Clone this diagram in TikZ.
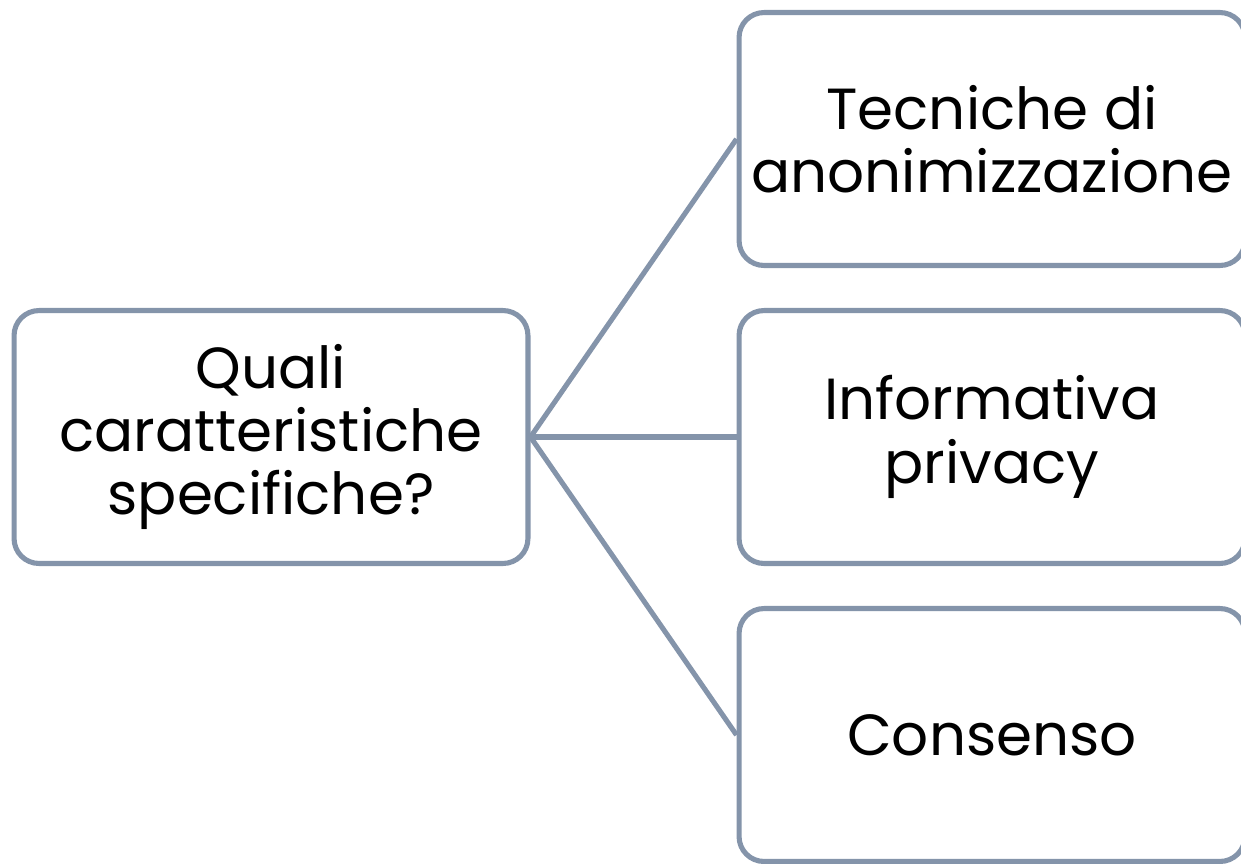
\documentclass[tikz,border=0pt]{standalone}
\usepackage{fontspec}
\setmainfont{Poppins}
\definecolor{boxline}{HTML}{8494AA}
\begin{document}
\begin{tikzpicture}[x=0.02cm, y=-0.02cm,
	box/.style={draw=boxline, line width=2.9pt, rounded corners=0.5cm, fill=white,
		minimum width=10.28cm, minimum height=5.06cm, align=center,
		font=\fontsize{33}{36}\selectfont},
	rbox/.style={box, minimum width=10.12cm},
	link/.style={draw=boxline, line width=2.9pt}]
	\clip (0,0) rectangle (1241,863);
	\node[box] (quali) at (271,437) {Quali\\caratteristiche\\specifiche?};
	\node[rbox] (tecniche) at (992,139) {Tecniche di\\anonimizzazione};
	\node[rbox] (info) at (992,437) {Informativa\\privacy};
	\node[rbox] (consenso) at (992,735) {Consenso};
	\draw[link] (quali.east) -- (tecniche.west);
	\draw[link] (quali.east) -- (info.west);
	\draw[link] (quali.east) -- (consenso.west);
\end{tikzpicture}
\end{document}
